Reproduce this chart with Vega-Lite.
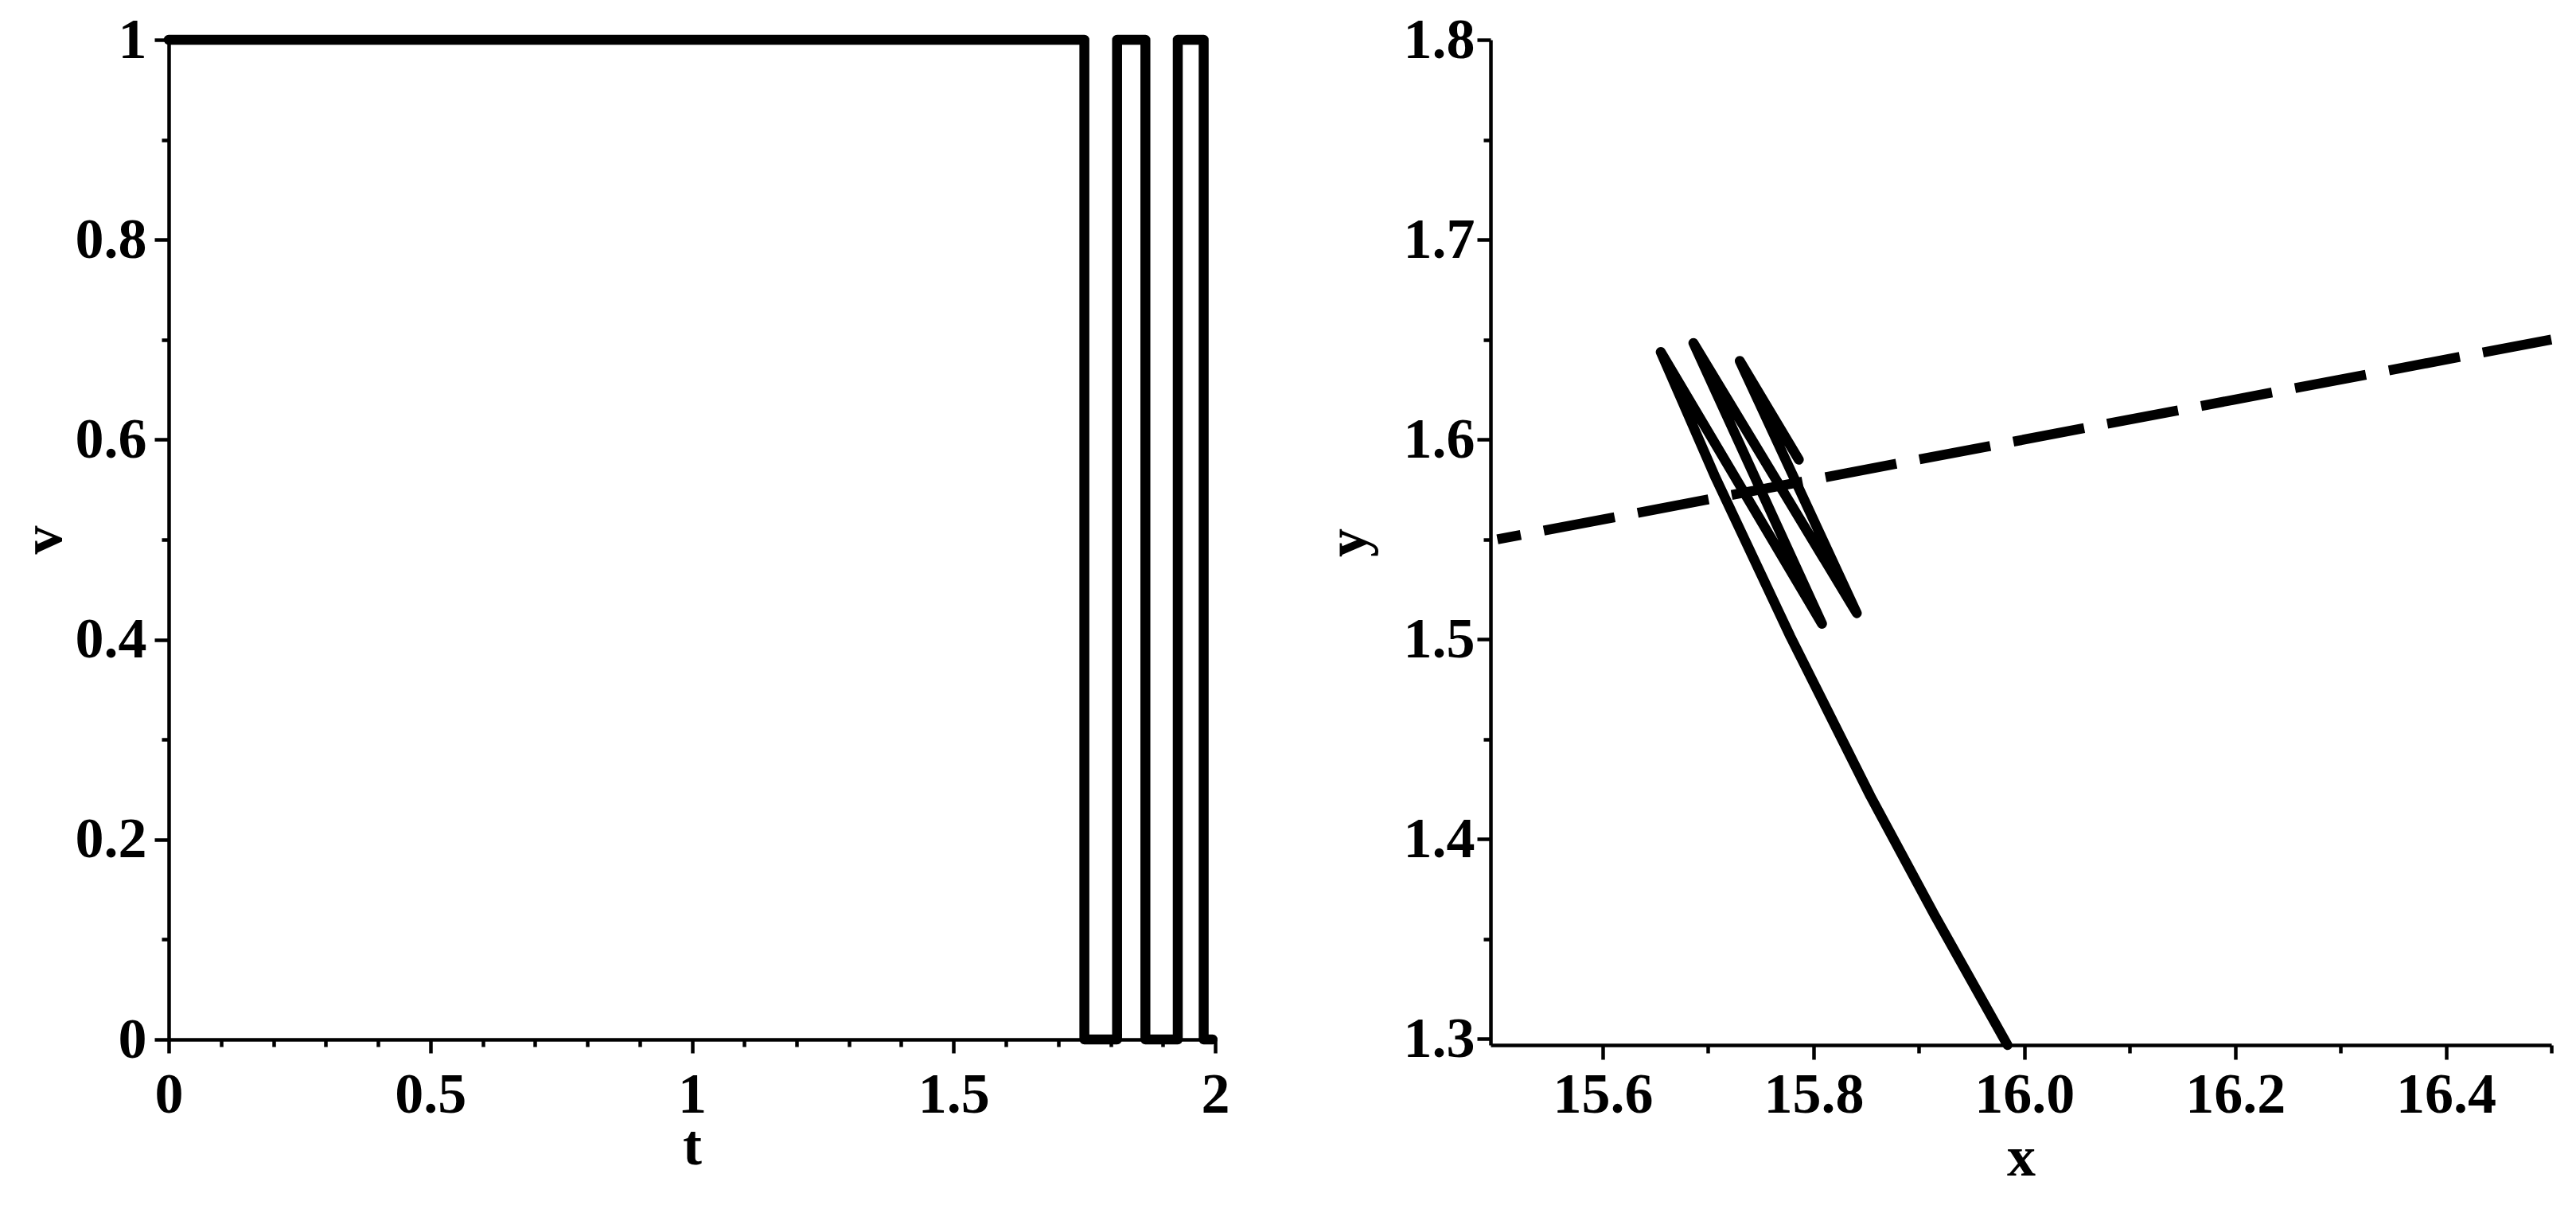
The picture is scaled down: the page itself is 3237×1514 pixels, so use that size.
{
  "$schema": "https://vega.github.io/schema/vega-lite/v6.json",
  "background": "white",
  "padding": {"left": 18, "top": 14, "right": 0, "bottom": 0},
  "spacing": 113,
  "config": {
    "view": {"stroke": null},
    "axis": {
      "labelFont": "Liberation Serif", "labelFontWeight": "bold", "labelFontSize": 72, "labelColor": "black",
      "titleFont": "Liberation Serif", "titleFontWeight": "bold", "titleFontSize": 72, "titleColor": "black",
      "domainColor": "black", "domainWidth": 4.5, "tickColor": "black", "tickWidth": 4.5,
      "grid": false, "labelFlush": false, "labelOverlap": false, "labelBound": false
    }
  },
  "datasets": {
    "vt": [
      {"i": 0, "t": 0, "v": 1},
      {"i": 1, "t": 1.75, "v": 1},
      {"i": 2, "t": 1.75, "v": 0},
      {"i": 3, "t": 1.8125, "v": 0},
      {"i": 4, "t": 1.8125, "v": 1},
      {"i": 5, "t": 1.8666, "v": 1},
      {"i": 6, "t": 1.8666, "v": 0},
      {"i": 7, "t": 1.9285, "v": 0},
      {"i": 8, "t": 1.9285, "v": 1},
      {"i": 9, "t": 1.978, "v": 1},
      {"i": 10, "t": 1.978, "v": 0},
      {"i": 11, "t": 1.995, "v": 0}
    ],
    "traj": [
      {"i": 0, "x": 15.984, "y": 1.297},
      {"i": 1, "x": 15.915, "y": 1.3618},
      {"i": 2, "x": 15.854, "y": 1.4215},
      {"i": 3, "x": 15.778, "y": 1.5014},
      {"i": 4, "x": 15.707, "y": 1.5809},
      {"i": 5, "x": 15.655, "y": 1.6438},
      {"i": 6, "x": 15.808, "y": 1.5078},
      {"i": 7, "x": 15.686, "y": 1.6483},
      {"i": 8, "x": 15.841, "y": 1.5131},
      {"i": 9, "x": 15.73, "y": 1.6393},
      {"i": 10, "x": 15.786, "y": 1.5899}
    ],
    "boundary": [
      {"i": 0, "x": 15.5, "y": 1.55},
      {"i": 1, "x": 16.5, "y": 1.65}
    ]
  },
  "hconcat": [
    {
      "width": 1315,
      "height": 1256,
      "data": {"name": "vt"},
      "layer": [
        {
          "mark": {"type": "line", "color": "black", "strokeWidth": 12.5, "strokeCap": "round", "strokeJoin": "round"},
          "encoding": {
            "x": {"field": "t", "type": "quantitative", "scale": {"domain": [0, 2], "nice": false, "zero": false},
                  "axis": {"orient": "bottom", "title": "t", "values": [0, 0.5, 1, 1.5, 2], "format": "~g", "tickSize": 17, "labelPadding": 17, "titlePadding": -6}},
            "y": {"field": "v", "type": "quantitative", "scale": {"domain": [0, 1], "nice": false, "zero": false},
                  "axis": {"orient": "left", "title": "v", "values": [0, 0.2, 0.4, 0.6, 0.8, 1], "format": "~g", "tickSize": 18, "labelPadding": 10, "titlePadding": 3}},
            "order": {"field": "i", "type": "quantitative"}
          }
        },
        {
          "mark": {"type": "line", "opacity": 0},
          "encoding": {
            "x": {"field": "t", "type": "quantitative",
                  "axis": {"orient": "bottom", "title": null, "values": [0.1, 0.2, 0.3, 0.4, 0.6, 0.7, 0.8, 0.9, 1.1, 1.2, 1.3, 1.4, 1.6, 1.7, 1.8, 1.9], "labels": false, "domain": false, "tickSize": 9}},
            "y": {"field": "v", "type": "quantitative",
                  "axis": {"orient": "left", "title": null, "values": [0.1, 0.3, 0.5, 0.7, 0.9], "labels": false, "domain": false, "tickSize": 9}},
            "order": {"field": "i", "type": "quantitative"}
          }
        }
      ],
      "resolve": {"axis": {"x": "independent", "y": "independent"}}
    },
    {
      "width": 1333,
      "height": 1263,
      "layer": [
        {
          "data": {"name": "boundary"},
          "mark": {"type": "line", "color": "black", "strokeWidth": 12.5, "strokeCap": "butt", "strokeDash": [90.6, 29.5], "strokeDashOffset": 60.7},
          "encoding": {
            "x": {"field": "x", "type": "quantitative", "scale": {"domain": [15.4935, 16.5], "nice": false, "zero": false},
                  "axis": {"orient": "bottom", "title": "x", "values": [15.6, 15.8, 16.0, 16.2, 16.4], "format": ".1f", "tickSize": 18, "labelPadding": 9, "titlePadding": 8}},
            "y": {"field": "y", "type": "quantitative", "scale": {"domain": [1.297, 1.8], "nice": false, "zero": false},
                  "axis": {"orient": "left", "title": "y", "values": [1.3, 1.4, 1.5, 1.6, 1.7, 1.8], "format": ".1f", "tickSize": 17, "labelPadding": 3, "titlePadding": 32}},
            "order": {"field": "i", "type": "quantitative"}
          }
        },
        {
          "data": {"name": "traj"},
          "mark": {"type": "line", "color": "black", "strokeWidth": 12.5, "strokeCap": "round", "strokeJoin": "round"},
          "encoding": {
            "x": {"field": "x", "type": "quantitative",
                  "axis": {"orient": "bottom", "title": null, "values": [15.7, 15.9, 16.1, 16.3, 16.5], "labels": false, "domain": false, "tickSize": 10}},
            "y": {"field": "y", "type": "quantitative",
                  "axis": {"orient": "left", "title": null, "values": [1.35, 1.45, 1.55, 1.65, 1.75], "labels": false, "domain": false, "tickSize": 9}},
            "order": {"field": "i", "type": "quantitative"}
          }
        }
      ],
      "resolve": {"axis": {"x": "independent", "y": "independent"}}
    }
  ]
}
